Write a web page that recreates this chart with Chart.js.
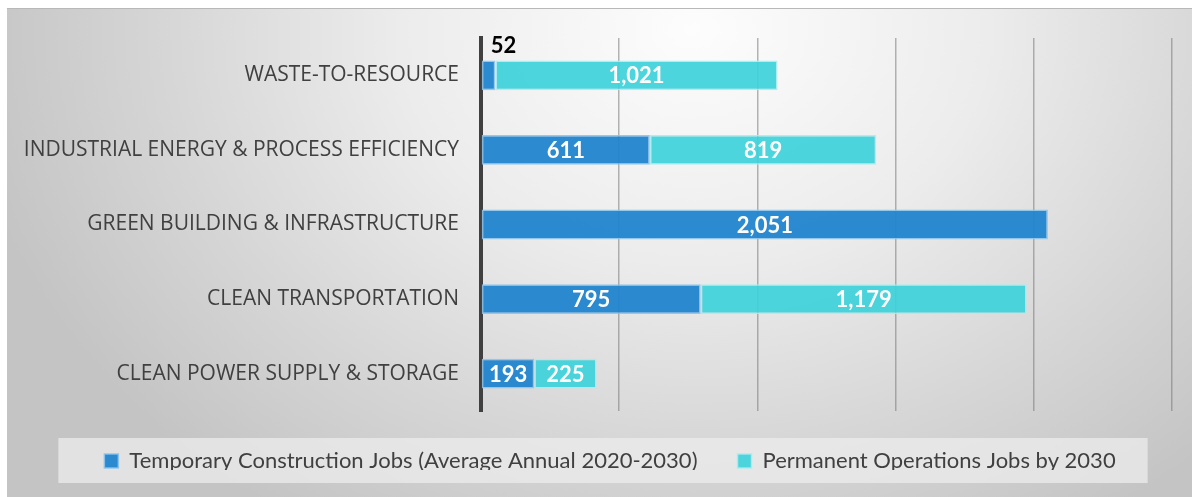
<!DOCTYPE html>
<html>
<head>
<meta charset="utf-8">
<script src="https://cdn.jsdelivr.net/npm/chart.js@4/dist/chart.umd.min.js"></script>
<style>
  html, body { margin: 0; padding: 0; background: #ffffff; }
  #bg {
    position: absolute; left: 7px; top: 8px; width: 1185px; height: 489px;
    border-top: 1px solid #b8b8b8; box-sizing: border-box;
    background: radial-gradient(ellipse 62% 120% at 58% 4%, #fdfdfd 0%, #ececec 40%, #d6d6d6 72%, #c4c4c4 100%);
  }
  #wrap { position: absolute; left: 0; top: 0; width: 1192px; height: 497px; }
</style>
</head>
<body>
<div id="bg"></div>
<div id="wrap"><canvas id="c" width="1192" height="497"></canvas></div>
<script>
const categories = [
  'WASTE-TO-RESOURCE',
  'INDUSTRIAL ENERGY & PROCESS EFFICIENCY',
  'GREEN BUILDING & INFRASTRUCTURE',
  'CLEAN TRANSPORTATION',
  'CLEAN POWER SUPPLY & STORAGE'
];
const temporaryJobs = [52, 611, 2051, 795, 193];
const permanentJobs = [1021, 819, 0, 1179, 225];
const seriesNames = [
  'Temporary Construction Jobs (Average Annual 2020-2030)',
  'Permanent Operations Jobs by 2030'
];
const xTicks = [0, 500, 1000, 1500, 2000, 2500];

const AXIS_LEFT = 481;
const LEGEND_SHIFT = 24;

const labelPlugin = {
  id: 'barLabels',
  afterDatasetsDraw(chart) {
    const ctx = chart.ctx;
    ctx.save();
    ctx.font = 'bold 22px Lato';
    chart.data.datasets.forEach((ds, di) => {
      const meta = chart.getDatasetMeta(di);
      meta.data.forEach((el, i) => {
        const v = ds.data[i];
        if (!v) return;
        const txt = v.toLocaleString('en-US');
        const w = ctx.measureText(txt).width;
        const segW = Math.abs(el.x - el.base);
        if (w + 8 < segW) {
          ctx.fillStyle = '#ffffff';
          ctx.textAlign = 'center';
          ctx.textBaseline = 'middle';
          ctx.fillText(txt, (el.x + el.base) / 2, el.y + 1);
        } else {
          ctx.fillStyle = '#000000';
          ctx.textAlign = 'left';
          ctx.textBaseline = 'bottom';
          ctx.fillText(txt, el.base + 9, el.y - el.height / 2 - 3);
        }
      });
    });
    ctx.restore();
  }
};

const legendShift = {
  id: 'legendShift',
  afterLayout(chart) {
    const lg = chart.legend;
    if (!lg) return;
    lg.left += LEGEND_SHIFT;
    lg.right += LEGEND_SHIFT;
  }
};

const legendBg = {
  id: 'legendBg',
  beforeDraw(chart) {
    const lg = chart.legend;
    if (!lg || !lg.legendHitBoxes || !lg.legendHitBoxes.length) return;
    const hb = lg.legendHitBoxes;
    const first = hb[0], last = hb[hb.length - 1];
    const cy = first.top + first.height / 2;
    const ctx = chart.ctx;
    ctx.save();
    ctx.fillStyle = 'rgba(236,236,236,0.75)';
    ctx.fillRect(first.left - 46, cy - 23, (last.left + last.width + 32) - (first.left - 46), 45);
    ctx.restore();
  }
};

new Chart(document.getElementById('c'), {
  type: 'bar',
  data: {
    labels: categories,
    datasets: [
      {
        label: seriesNames[0],
        data: temporaryJobs,
        backgroundColor: 'rgba(32,132,206,0.95)',
        borderColor: 'rgba(140,195,235,0.9)',
        borderWidth: 1.5,
        borderSkipped: false
      },
      {
        label: seriesNames[1],
        data: permanentJobs,
        backgroundColor: 'rgba(62,210,217,0.93)',
        borderColor: 'rgba(170,235,238,0.9)',
        borderWidth: 1.5,
        borderSkipped: false
      }
    ]
  },
  options: {
    indexAxis: 'y',
    responsive: false,
    animation: false,
    devicePixelRatio: 1,
    categoryPercentage: 1,
    barPercentage: 0.4,
    layout: { padding: { left: 0, right: 20, top: 38, bottom: 26 } },
    scales: {
      x: {
        stacked: true,
        min: xTicks[0],
        max: xTicks[xTicks.length - 1],
        afterBuildTicks(scale) { scale.ticks = xTicks.map(v => ({ value: v })); },
        ticks: { display: false },
        grid: { color: 'rgba(120,120,120,0.55)', lineWidth: 1.5, drawTicks: false },
        border: { display: false },
        afterFit(scale) { scale.height = -1; }
      },
      y: {
        stacked: true,
        afterFit(scale) { scale.width = AXIS_LEFT; },
        ticks: {
          padding: 22,
          color: '#404040',
          font: { family: 'Open Sans', size: 21 }
        },
        grid: { display: false, drawTicks: false },
        border: { display: true, color: '#404040', width: 4 }
      }
    },
    plugins: {
      legend: {
        position: 'bottom',
        maxHeight: 60,
        labels: {
          boxWidth: 14,
          boxHeight: 14,
          padding: 40,
          color: '#404040',
          font: { family: 'Lato', size: 22 }
        }
      },
      tooltip: { enabled: false }
    }
  },
  plugins: [legendShift, legendBg, labelPlugin]
});
</script>
</body>
</html>
